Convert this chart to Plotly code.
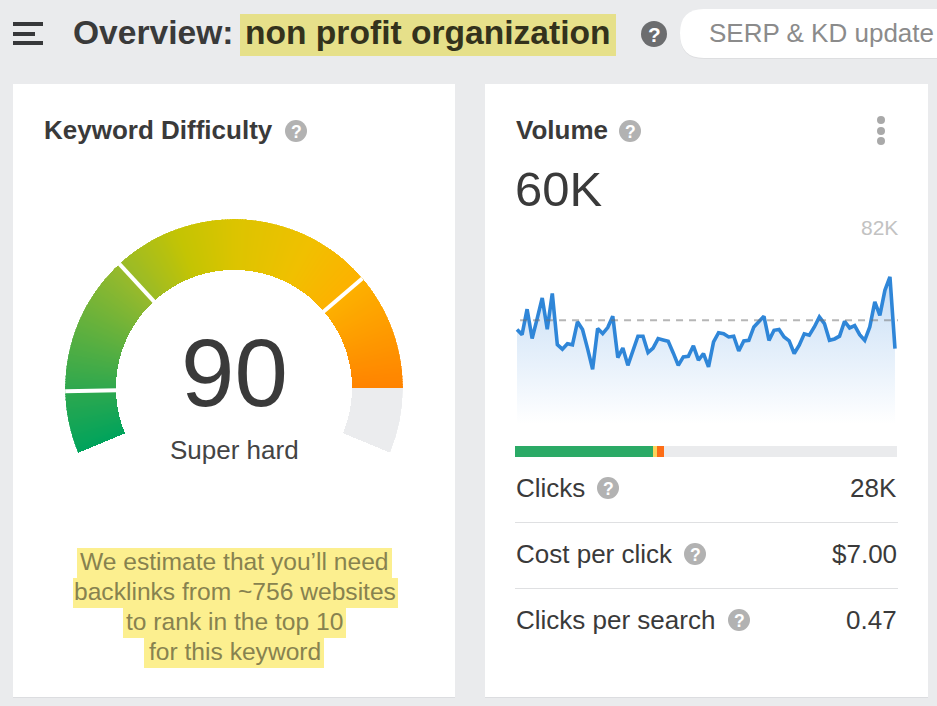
import numpy as np
import plotly.graph_objects as go

W, H = 937, 706

# gauge
KD_SCORE = 90
KD_STOPS = [9.5, 31, 72, 90]
KD_COLORS = [
    [0.0, "#00a35c"], [0.11, "#2fa84e"], [0.33, "#93b92d"], [0.46, "#c4c403"],
    [0.56, "#dcc400"], [0.69, "#f0c000"], [0.8, "#fdb100"], [1.0, "#ff8300"],
]

# search volume history, thousands
volume = [
    55.3, 52.7, 65.6, 50.7, 60.8, 71.3, 55.4, 73.6, 47.6, 45.3, 48.1, 47.5, 59.2, 55.3, 45.6, 35.1,
    55.8, 53.2, 56.3, 62.0, 41.0, 45.9, 37.1, 44.8, 51.9, 51.9, 43.6, 45.9, 50.7, 50.0, 49.3, 43.4,
    37.1, 41.4, 41.7, 47.0, 39.7, 43.1, 36.3, 49.0, 53.7, 53.2, 51.5, 51.9, 44.4, 49.5, 49.8, 56.6,
    59.5, 62.0, 49.8, 54.9, 55.3, 51.5, 49.5, 43.1, 47.3, 53.1, 52.4, 56.6, 61.7, 58.3, 49.8, 50.5,
    51.9, 59.5, 56.1, 57.3, 52.7, 49.8, 56.6, 69.3, 62.5, 75.2, 82.0, 45.6,
]
volume_now = 60

# clicks bar, percent of searches
click_shares = [36.1, 1.1, 1.9, 60.9]
click_colors = ["#2baa66", "#fcd45a", "#fd6d16", "#eaebed"]

metric_labels = ["Clicks", "Cost per click", "Clicks per search"]
metric_values = ["28K", "$7.00", "0.47"]
metric_rows = [488, 554, 620]
metric_help = [608, 695, 739]

note_lines = [
    "We estimate that you’ll need",
    "backlinks from ~756 websites",
    "to rank in the top 10",
    "for this keyword",
]
note_boxes = [(77, 392), (73, 398), (123, 346), (144, 324)]


def px(x):
    return x / W


def py(y):
    return 1 - y / H


def label(text, x, y, size, color="#3a3a3a", anchor="left", bold=False):
    if bold:
        text = "<b>" + text + "</b>"
    return dict(
        text=text, x=px(x), y=py(y), xref="paper", yref="paper", showarrow=False,
        xanchor=anchor, yanchor="middle", font=dict(size=size, color=color), borderpad=0, borderwidth=0,
    )


def rect(x0, y0, x1, y1, color):
    return dict(
        type="rect", xref="paper", yref="paper", x0=px(x0), x1=px(x1), y0=py(y0), y1=py(y1),
        fillcolor=color, line_width=0, layer="below",
    )


def dot(x, y, r, color):
    return dict(
        type="circle", xref="paper", yref="paper", x0=px(x - r), x1=px(x + r), y0=py(y - r), y1=py(y + r),
        fillcolor=color, line_width=0, layer="below",
    )


def help_icon(x, y, r=11, color="#b2b2b2"):
    shapes.append(dot(x, y, r, color))
    annotations.append(label("?", x, y + 0.5, r * 1.6, "#ffffff", "center", True))


shapes = [
    rect(13, 85, 455, 698, "#dcdde0"),
    rect(485, 85, 928, 698, "#dcdde0"),
    rect(13, 84, 455, 697, "#ffffff"),
    rect(485, 84, 928, 697, "#ffffff"),
    rect(240, 14, 616, 56, "#e6e08a"),
    rect(13, 22, 43, 26, "#37383a"),
    rect(13, 32, 35, 36, "#37383a"),
    rect(13, 41, 43, 45, "#37383a"),
    dict(
        type="path", xref="paper", yref="paper", fillcolor="#dddee0", line_width=0, layer="below",
        path=f"M {px(940)} {py(10)} L {px(704)} {py(10)} Q {px(680)} {py(10)} {px(680)} {py(34.5)} "
             f"Q {px(680)} {py(59)} {px(704)} {py(59)} L {px(940)} {py(59)} Z",
    ),
    dict(
        type="path", xref="paper", yref="paper", fillcolor="#ffffff", line_width=0, layer="below",
        path=f"M {px(940)} {py(9)} L {px(704)} {py(9)} Q {px(680)} {py(9)} {px(680)} {py(33.5)} "
             f"Q {px(680)} {py(58)} {px(704)} {py(58)} L {px(940)} {py(58)} Z",
    ),
    dot(881, 120, 4, "#a9a9a9"),
    dot(881, 131, 4, "#a9a9a9"),
    dot(881, 141, 4, "#a9a9a9"),
]

annotations = [
    label("Overview:", 73, 33, 33.6, "#3a3a3a", bold=True),
    label("non profit organization", 245, 33, 33.6, "#33321c", bold=True),
    label("SERP &amp; KD update", 709, 33, 26, "#8b8b8b"),
    label("Keyword Difficulty", 44, 130.5, 26, bold=True),
    label("Volume", 516, 130.5, 26, bold=True),
    label("60K", 515, 189, 49),
    label("82K", 898, 227, 21, "#c2c2c2", "right"),
    label(str(KD_SCORE), 234, 373, 96, "#3a3a3a", "center"),
    label("Super hard", 234, 450, 26, "#444444", "center"),
]

help_icon(654, 34, 13, "#6c6d6f")
help_icon(296, 131)
help_icon(630, 131)

for lab, val, row, hx in zip(metric_labels, metric_values, metric_rows, metric_help):
    annotations.append(label(lab, 516, row, 26))
    annotations.append(label(val, 897, row, 26, anchor="right"))
    help_icon(hx, row, 11)

shapes.append(rect(515, 522, 898, 523, "#dfe0e2"))
shapes.append(rect(515, 588, 898, 589, "#dfe0e2"))

for i, (line, box) in enumerate(zip(note_lines, note_boxes)):
    top = 548 + i * 30
    shapes.append(rect(box[0], top, box[1], top + 30, "#fcef8f"))
    annotations.append(label(line, 234.5, top + 13.5, 24.6, "#87824f", "center"))

fig = go.Figure()

# gauge, drawn as thin wedges so the colour can run along the arc
DEG_PER_POINT = 2.25
step = 0.25
points = np.arange(step / 2, KD_SCORE, step)
fig.add_trace(go.Barpolar(
    r=[51], base=[118], theta=[(KD_SCORE + 100) / 2 * DEG_PER_POINT], width=[(100 - KD_SCORE) * DEG_PER_POINT],
    marker=dict(color="#ebecee", line_width=0), hoverinfo="skip", subplot="polar",
))
fig.add_trace(go.Barpolar(
    r=[51] * len(points), base=[118] * len(points), theta=points * DEG_PER_POINT,
    width=[step * DEG_PER_POINT * 1.3] * len(points),
    marker=dict(color=points, colorscale=KD_COLORS, cmin=0, cmax=KD_SCORE, showscale=False, line_width=0),
    hoverinfo="skip", subplot="polar",
))
for stop in KD_STOPS[:-1]:
    fig.add_trace(go.Scatterpolar(
        r=[116, 171], theta=[stop * DEG_PER_POINT] * 2, mode="lines",
        line=dict(color="#ffffff", width=4), hoverinfo="skip", subplot="polar",
    ))

# volume history
days = list(range(len(volume)))
fig.add_trace(go.Scatter(
    x=days, y=volume, mode="lines", line=dict(color="#2f86d8", width=3.6), fill="tozeroy",
    fillgradient=dict(
        type="vertical", start=7.3, stop=82,
        colorscale=[[0, "rgba(255,255,255,1)"], [1, "rgba(198,221,245,1)"]],
    ),
    cliponaxis=False, hoverinfo="skip", xaxis="x", yaxis="y",
))
fig.add_trace(go.Scatter(
    x=[0.6, 75.6], y=[volume_now, volume_now], mode="lines",
    line=dict(color="rgba(110,110,110,0.5)", width=2, dash="7px,6px"),
    hoverinfo="skip", xaxis="x", yaxis="y",
))

# clicks bar
for share, color in zip(click_shares, click_colors):
    fig.add_trace(go.Bar(
        x=[share], y=["clicks"], orientation="h", marker=dict(color=color, line_width=0),
        hoverinfo="skip", xaxis="x2", yaxis="y2",
    ))

hidden = dict(visible=False, showgrid=False, zeroline=False, fixedrange=True)
fig.update_layout(
    width=W, height=H, margin=dict(l=0, r=0, t=0, b=0), autosize=False,
    paper_bgcolor="#eaebed", plot_bgcolor="rgba(0,0,0,0)", showlegend=False,
    font=dict(family="Liberation Sans, Arial, sans-serif"),
    barmode="stack", bargap=0,
    shapes=shapes, annotations=annotations,
    polar=dict(
        domain=dict(x=[px(65), px(403)], y=[py(557), py(219)]),
        bgcolor="rgba(0,0,0,0)",
        radialaxis=dict(visible=False, range=[0, 169]),
        angularaxis=dict(visible=False, direction="clockwise", rotation=202.5),
    ),
    xaxis=dict(domain=[px(515), px(898)], range=[-0.4, 75.6], anchor="y", **hidden),
    yaxis=dict(domain=[py(424), py(235)], range=[7.3, 103.3], anchor="x", **hidden),
    xaxis2=dict(domain=[px(515), px(897)], range=[0, 100], anchor="y2", **hidden),
    yaxis2=dict(domain=[py(457), py(446)], anchor="x2", **hidden),
)

fig.write_html("out.html", config={"displayModeBar": False}, post_script="document.body.style.margin='0';")
